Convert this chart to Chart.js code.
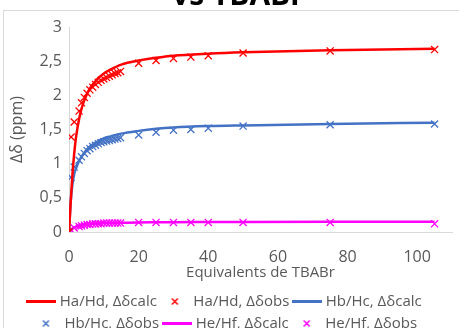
<!DOCTYPE html>
<html>
<head>
<meta charset="utf-8">
<script src="https://cdn.jsdelivr.net/npm/chart.js@4.4.0/dist/chart.umd.min.js"></script>
<style>
  body { margin: 0; background: #ffffff; }
  #wrap { width: 459px; height: 328px; position: relative; }
</style>
</head>
<body>
<div id="wrap"><canvas id="myChart"></canvas></div>
<script>
// observed points (equivalents of TBABr)
var obsX  = [0, 0.6, 1.5, 2.9, 3.6, 4.4, 5.2, 6, 6.8, 7.6, 8.4, 9.2, 10, 10.8, 11.6, 12.4, 13.2, 14, 14.8, 20, 25, 30, 35, 40, 50, 75, 105];
var haObs = [0, 1.39, 1.61, 1.77, 1.89, 1.97, 2.03, 2.08, 2.12, 2.16, 2.19, 2.22, 2.24, 2.26, 2.28, 2.30, 2.32, 2.33, 2.35, 2.47, 2.51, 2.54, 2.56, 2.58, 2.62, 2.65, 2.67];
var hbObs = [0, 0.80, 0.95, 1.05, 1.10, 1.15, 1.19, 1.22, 1.25, 1.27, 1.29, 1.31, 1.32, 1.33, 1.34, 1.35, 1.36, 1.37, 1.38, 1.42, 1.46, 1.49, 1.50, 1.52, 1.55, 1.57, 1.58];
var heObs = [0, 0.03, 0.06, 0.08, 0.09, 0.10, 0.11, 0.11, 0.12, 0.12, 0.12, 0.12, 0.13, 0.13, 0.13, 0.13, 0.13, 0.13, 0.13, 0.14, 0.14, 0.14, 0.14, 0.14, 0.14, 0.14, 0.12];

// fitted curves
var calcX  = [0, 0.5, 1, 1.5, 2, 3, 4, 5, 6, 8, 10, 12, 15, 20, 25, 30, 40, 50, 75, 105];
var haCalc = [0, 0.45, 0.85, 1.15, 1.38, 1.68, 1.87, 2.00, 2.10, 2.23, 2.32, 2.38, 2.45, 2.51, 2.55, 2.58, 2.61, 2.63, 2.66, 2.68];
var hbCalc = [0, 0.45, 0.70, 0.85, 0.93, 1.05, 1.13, 1.20, 1.25, 1.32, 1.37, 1.40, 1.44, 1.48, 1.51, 1.53, 1.55, 1.56, 1.58, 1.60];
var heCalc = [0, 0.03, 0.05, 0.065, 0.08, 0.10, 0.11, 0.115, 0.12, 0.125, 0.13, 0.132, 0.135, 0.14, 0.142, 0.144, 0.145, 0.147, 0.149, 0.15];

var labels = ['Ha/Hd, \u0394\u03b4calc', 'Ha/Hd, \u0394\u03b4obs', 'Hb/Hc, \u0394\u03b4calc',
              'Hb/Hc, \u0394\u03b4obs', 'He/Hf, \u0394\u03b4calc', 'He/Hf, \u0394\u03b4obs'];
var colors = ['#ff0000', '#ff0000', '#4472c4', '#4472c4', '#ff00ff', '#ff00ff'];

function pts(xs, ys) {
    var out = [];
    for (var i in xs) {
        out.push({x: xs[i], y: ys[i]});
    }
    return out;
}

function calcSet(label, ys, color) {
    return {
        label: label,
        data: pts(calcX, ys),
        showLine: true,
        borderColor: color,
        backgroundColor: color,
        borderWidth: 2.5,
        pointRadius: 0,
        cubicInterpolationMode: 'monotone'
    };
}

function obsSet(label, ys, color) {
    return {
        label: label,
        data: pts(obsX, ys),
        showLine: false,
        borderColor: color,
        backgroundColor: color,
        borderWidth: 1.3,
        pointStyle: 'crossRot',
        pointRadius: 5,
        pointBorderWidth: 1.3
    };
}

// small legend symbols: a 30px line for the curves, a small x for the points
function lineIcon(color) {
    var c = document.createElement('canvas');
    c.width = 30; c.height = 3;
    var g = c.getContext('2d');
    g.fillStyle = color;
    g.fillRect(0, 0, 30, 3);
    return c;
}
function crossIcon(color) {
    var c = document.createElement('canvas');
    c.width = 9; c.height = 9;
    var g = c.getContext('2d');
    g.strokeStyle = color;
    g.lineWidth = 1.5;
    g.beginPath();
    g.moveTo(1.5, 1.5); g.lineTo(7.5, 7.5);
    g.moveTo(7.5, 1.5); g.lineTo(1.5, 7.5);
    g.stroke();
    return c;
}

var gray = '#595959';
var tickFont = { family: 'Open Sans', size: 16 };
var labelFont = { family: 'Open Sans', size: 15 };

// chart frame and the clipped title above it
var framePlugin = {
    id: 'frame',
    beforeDraw: function(chart) {
        var ctx = chart.ctx;
        ctx.save();
        ctx.fillStyle = '#ffffff';
        ctx.fillRect(0, 0, chart.width, chart.height);
        ctx.strokeStyle = '#d9d9d9';
        ctx.lineWidth = 1;
        ctx.strokeRect(3.5, 10.5, chart.width + 10, chart.height + 10);
        ctx.fillStyle = '#000000';
        ctx.font = 'bold 30px "Open Sans"';
        ctx.textAlign = 'center';
        ctx.textBaseline = 'alphabetic';
        ctx.fillText('vs TBABr', 238, 5);
        ctx.restore();
    }
};

var chartData = {
    datasets: [
        calcSet(labels[0], haCalc, colors[0]),
        obsSet(labels[1], haObs, colors[1]),
        calcSet(labels[2], hbCalc, colors[2]),
        obsSet(labels[3], hbObs, colors[3]),
        calcSet(labels[4], heCalc, colors[4]),
        obsSet(labels[5], heObs, colors[5])
    ]
};

var graphTarget = document.getElementById('myChart');
var scatter = new Chart(graphTarget, {
    type: 'scatter',
    data: chartData,
    plugins: [framePlugin],
    options: {
        responsive: true,
        maintainAspectRatio: false,
        animation: false,
        layout: { padding: { left: 0, right: 7, top: 27, bottom: -13 } },
        plugins: {
            title: { display: false },
            tooltip: { enabled: false },
            legend: {
                position: 'bottom',
                labels: {
                    usePointStyle: true,
                    pointStyleWidth: 22,
                    color: gray,
                    font: labelFont,
                    padding: 7,
                    generateLabels: function(chart) {
                        var items = Chart.defaults.plugins.legend.labels.generateLabels(chart);
                        for (var i in items) {
                            items[i].pointStyle = (i % 2 == 0) ? lineIcon(colors[i]) : crossIcon(colors[i]);
                        }
                        return items;
                    }
                }
            }
        },
        scales: {
            x: {
                type: 'linear',
                min: 0,
                max: 110,
                afterFit: function(scale) { scale.height = 55; },
                grid: { display: false, drawTicks: false },
                border: { display: true, color: '#d9d9d9' },
                ticks: { stepSize: 20, includeBounds: false, color: gray, font: tickFont, padding: 16 },
                title: { display: true, text: 'Equivalents de TBABr', color: gray, font: labelFont, padding: { top: 0, bottom: 5.5 } }
            },
            y: {
                min: 0,
                max: 3,
                afterFit: function(scale) { scale.width = 69; },
                grid: { display: false, drawTicks: false },
                border: { display: true, color: '#d9d9d9' },
                ticks: {
                    stepSize: 0.5,
                    color: gray,
                    font: tickFont,
                    padding: 7,
                    callback: function(v) { return String(v).replace('.', ','); }
                },
                title: { display: true, text: '\u0394\u03b4 (ppm)', color: gray, font: tickFont, padding: { top: 8, bottom: 0 } }
            }
        }
    }
});
</script>
</body>
</html>
